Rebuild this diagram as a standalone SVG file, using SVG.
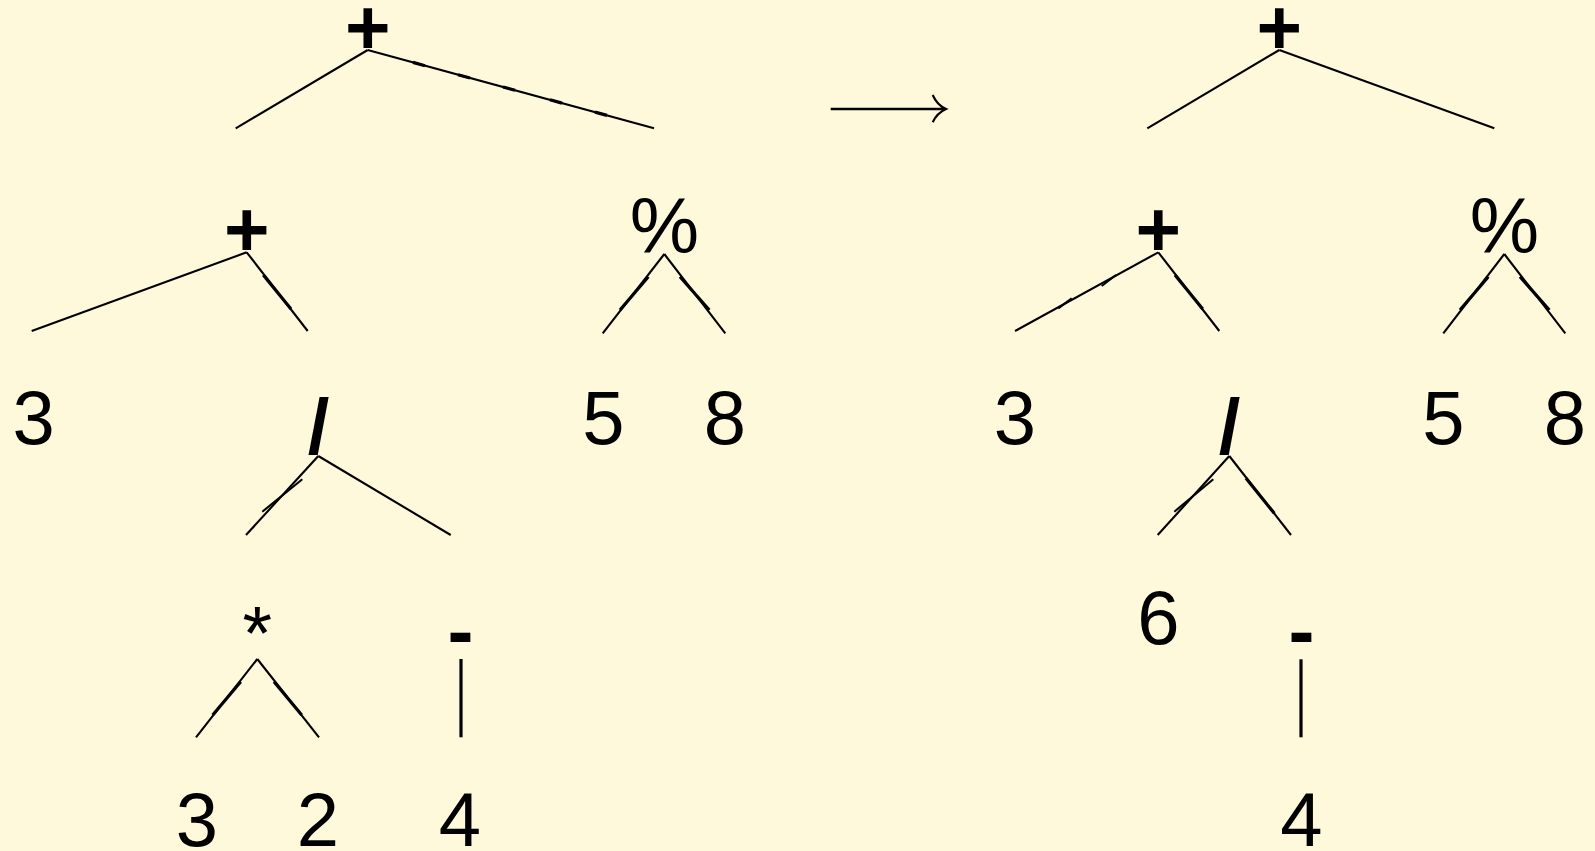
<svg xmlns="http://www.w3.org/2000/svg" width="1595" height="851" viewBox="0 0 1595 851">
<style>
.bg{fill:#FFF9DC}
.e{stroke:#000;stroke-width:2.1;fill:none;stroke-linecap:butt}
.t{stroke:#000;stroke-width:3.2;fill:none}
.num{font-family:"Liberation Sans",Arial,sans-serif;font-size:76px;fill:#000;text-anchor:middle}
.op{font-family:"Liberation Sans",Arial,sans-serif;font-size:78px;fill:#000;text-anchor:middle}
.opb{font-family:"Liberation Sans",Arial,sans-serif;font-size:78px;font-weight:bold;fill:#000;text-anchor:middle}
</style>
<rect class="bg" x="0" y="0" width="1595" height="851"/>
<g id="connectors">
  <!-- left tree -->
  <line class="e" x1="367.7" y1="50" x2="235.7" y2="128.3"/>
  <line class="e" x1="367.7" y1="50" x2="654" y2="128.3"/>
  <line class="t" x1="413" y1="62.4" x2="425" y2="65.7"/>
  <line class="t" x1="458" y1="74.7" x2="470" y2="78"/>
  <line class="t" x1="503" y1="87" x2="515" y2="90.3"/>
  <line class="t" x1="550" y1="99.8" x2="562" y2="103.1"/>
  <line class="t" x1="595" y1="112.1" x2="607" y2="115.4"/>
  <line class="e" x1="246.7" y1="252.3" x2="31.7" y2="331"/>
  <line class="e" x1="246.7" y1="252.3" x2="307.7" y2="331"/>
  <line class="t" x1="263.3" y1="275" x2="291" y2="309"/>
  <line class="e" x1="664.3" y1="254" x2="602.7" y2="333.3"/>
  <line class="e" x1="664.3" y1="254" x2="725.3" y2="333.3"/>
  <line class="t" x1="648.3" y1="276.7" x2="620" y2="310"/>
  <line class="t" x1="680" y1="276.7" x2="709.3" y2="310"/>
  <line class="e" x1="318.3" y1="456" x2="246" y2="535"/>
  <line class="e" x1="262.3" y1="511.7" x2="302.3" y2="479.3"/>
  <line class="e" x1="318.3" y1="456" x2="450.7" y2="535"/>
  <line class="e" x1="257.3" y1="659" x2="196" y2="737.3"/>
  <line class="e" x1="257.3" y1="659" x2="319" y2="737.3"/>
  <line class="t" x1="240.7" y1="681.7" x2="212.7" y2="715"/>
  <line class="t" x1="274" y1="681.7" x2="301.7" y2="715"/>
  <line class="t" x1="461" y1="659" x2="461" y2="737.3"/>
  <!-- right tree -->
  <line class="e" x1="1279.3" y1="50" x2="1147.3" y2="128.3"/>
  <line class="e" x1="1279.3" y1="50" x2="1494.3" y2="128.3"/>
  <line class="e" x1="1158.3" y1="252.3" x2="1015" y2="331"/>
  <line class="e" x1="1058.3" y1="308.3" x2="1071.7" y2="298.3"/>
  <line class="e" x1="1101.7" y1="286" x2="1116" y2="275"/>
  <line class="e" x1="1158.3" y1="252.3" x2="1219.3" y2="331"/>
  <line class="t" x1="1175" y1="275" x2="1202.7" y2="309"/>
  <line class="e" x1="1504.3" y1="254" x2="1443.3" y2="333.3"/>
  <line class="e" x1="1504.3" y1="254" x2="1565.3" y2="333.3"/>
  <line class="t" x1="1488.3" y1="276.7" x2="1460" y2="310"/>
  <line class="t" x1="1520" y1="276.7" x2="1549.3" y2="310"/>
  <line class="e" x1="1229.3" y1="456" x2="1157.7" y2="535"/>
  <line class="e" x1="1174.3" y1="511.7" x2="1213.3" y2="479.3"/>
  <line class="e" x1="1229.3" y1="456" x2="1291" y2="535"/>
  <line class="t" x1="1246" y1="478.3" x2="1274.3" y2="513.3"/>
  <line class="t" x1="1301" y1="659.3" x2="1301" y2="737.3"/>
  <!-- transformation arrow -->
  <line x1="830.7" y1="109" x2="945" y2="109" stroke="#000" stroke-width="2.4"/>
  <path d="M932.7,95 Q937,105 946,109 Q937,113 932.7,122.3" stroke="#000" stroke-width="2.2" fill="none"/>
</g>
<g id="left-tree">
  <g id="n-plus-root-l"><text class="opb" x="367.7" y="54">+</text></g>
  <g id="n-plus-l"><text class="opb" x="246.7" y="256">+</text></g>
  <g id="n-mod-l"><text class="op" x="664.5" y="253">%</text></g>
  <g id="n-3a-l"><text class="num" x="33.7" y="444">3</text></g>
  <g id="n-div-l"><text class="opb" x="318.5" y="454">/</text></g>
  <g id="n-5-l"><text class="num" x="603.3" y="444">5</text></g>
  <g id="n-8-l"><text class="num" x="725" y="444">8</text></g>
  <g id="n-mul-l"><text class="num" x="257.3" y="659">*</text></g>
  <g id="n-neg-l"><text class="opb" x="460.5" y="658">-</text></g>
  <g id="n-3b-l"><text class="num" x="197" y="846">3</text></g>
  <g id="n-2-l"><text class="num" x="318" y="846">2</text></g>
  <g id="n-4-l"><text class="num" x="460" y="846">4</text></g>
</g>
<g id="right-tree">
  <g id="n-plus-root-r"><text class="opb" x="1279.3" y="54">+</text></g>
  <g id="n-plus-r"><text class="opb" x="1158.3" y="256">+</text></g>
  <g id="n-mod-r"><text class="op" x="1504.5" y="253">%</text></g>
  <g id="n-3-r"><text class="num" x="1015" y="444">3</text></g>
  <g id="n-div-r"><text class="opb" x="1229.5" y="454">/</text></g>
  <g id="n-5-r"><text class="num" x="1443.3" y="444">5</text></g>
  <g id="n-8-r"><text class="num" x="1565" y="444">8</text></g>
  <g id="n-6-r"><text class="num" x="1158.3" y="644">6</text></g>
  <g id="n-neg-r"><text class="opb" x="1301.5" y="658">-</text></g>
  <g id="n-4-r"><text class="num" x="1301.3" y="846">4</text></g>
</g>
</svg>
